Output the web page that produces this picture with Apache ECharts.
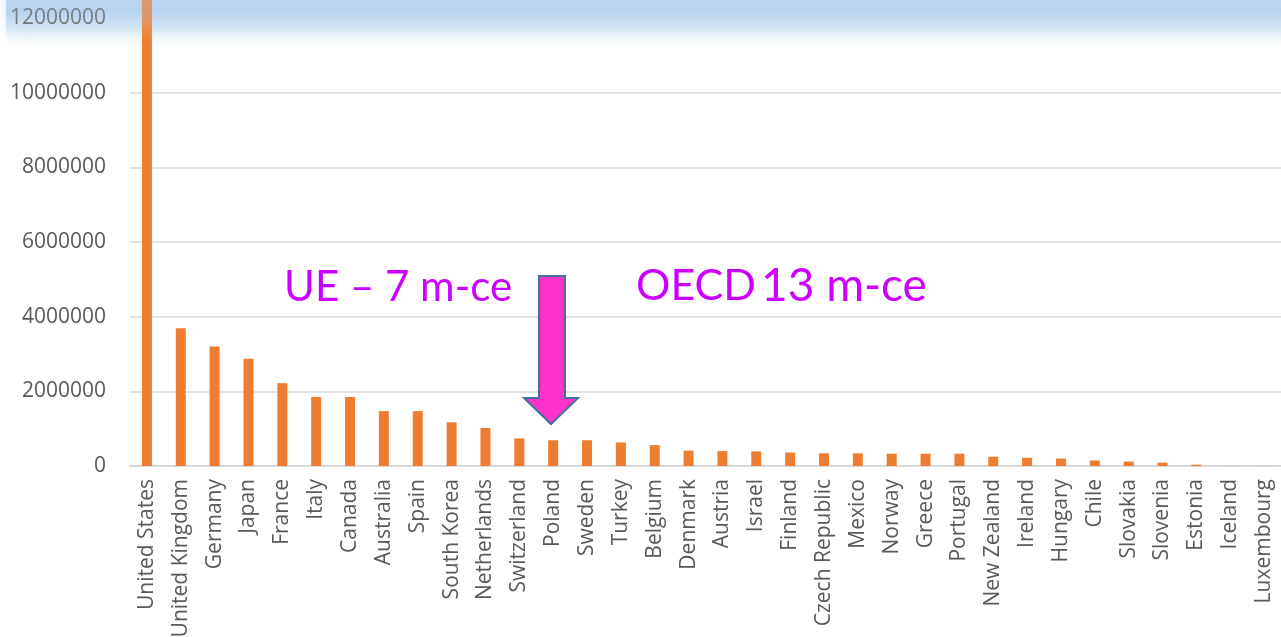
<!DOCTYPE html>
<html>
<head>
<meta charset="utf-8">
<script src="https://cdn.jsdelivr.net/npm/echarts@6/dist/echarts.min.js"></script>
<style>
html,body{margin:0;padding:0;background:#fff;}
#c{width:1281px;height:637px;}
</style>
</head>
<body>
<div id="c"></div>
<script>
const categories = ["United States","United Kingdom","Germany","Japan","France","Italy","Canada","Australia","Spain","South Korea","Netherlands","Switzerland","Poland","Sweden","Turkey","Belgium","Denmark","Austria","Israel","Finland","Czech Republic","Mexico","Norway","Greece","Portugal","New Zealand","Ireland","Hungary","Chile","Slovakia","Slovenia","Estonia","Iceland","Luxembourg"];
const values = [13500000,3690000,3200000,2870000,2220000,1850000,1850000,1470000,1470000,1170000,1020000,740000,690000,690000,630000,560000,410000,400000,390000,360000,340000,340000,330000,330000,330000,250000,220000,200000,150000,120000,90000,35000,3000,3000];
const yTicks = [0,2000000,4000000,6000000,8000000,10000000,12000000];

const chart = echarts.init(document.getElementById('c'), null, {renderer:'canvas'});
chart.setOption({
  animation:false,
  grid:{left:130,right:0,top:18,bottom:171,containLabel:false,outerBoundsMode:'none'},
  xAxis:{
    type:'category', data:categories,
    axisLine:{lineStyle:{color:'#d9d9d9',width:2}},
    axisTick:{show:false},
    axisLabel:{rotate:90,interval:0,margin:13,color:'#595959',fontFamily:'Open Sans',fontSize:21}
  },
  yAxis:{
    type:'value', min:yTicks[0], max:yTicks[yTicks.length-1], interval:2000000,
    axisLine:{show:false}, axisTick:{show:false},
    splitLine:{lineStyle:{color:'#d9d9d9',width:1.5}},
    axisLabel:{margin:24,color:'#595959',fontFamily:'Open Sans',fontSize:21,formatter:v=>String(v)}
  },
  series:[{
    type:'bar', data:values, barWidth:10, clip:false,
    itemStyle:{color:'#ed7d31'}
  }],
  graphic:[
    {type:'rect',z:-1,shape:{x:6,y:-20,width:1320,height:68,r:14},
      style:{fill:{type:'linear',x:0,y:0,x2:0,y2:1,colorStops:[
        {offset:0,color:'rgba(205,225,243,1)'},
        {offset:0.45,color:'rgba(180,210,237,0.9)'},
        {offset:0.7,color:'rgba(200,222,242,0.7)'},
        {offset:1,color:'rgba(255,255,255,0)'}]},
        shadowBlur:14,shadowColor:'rgba(170,200,230,0.4)'}},
    {type:'rect',z:100,shape:{x:6,y:-20,width:1320,height:60,r:14},
      style:{fill:{type:'linear',x:0,y:0,x2:0,y2:1,colorStops:[
        {offset:0,color:'rgba(180,210,237,0.35)'},
        {offset:0.6,color:'rgba(180,210,237,0.3)'},
        {offset:1,color:'rgba(255,255,255,0)'}]}}},
    {type:'text',z:90,left:284,top:266,style:{text:'UE – 7 m-ce',fill:'#cc00ff',font:'42px Lato'}},
    {type:'text',z:90,left:636,top:265,style:{text:'OECD',fill:'#cc00ff',font:'43px Lato'}},
    {type:'text',z:90,left:761,top:263,style:{text:'13 m-ce',fill:'#cc00ff',font:'46px Lato'}},
    {type:'polygon',z:90,shape:{points:[[539,276],[565,276],[565,398],[578,398],[551,424],[524,398],[539,398]]},
      style:{fill:'#ff33cc',stroke:'#41719c',lineWidth:2}}
  ]
});
</script>
</body>
</html>
